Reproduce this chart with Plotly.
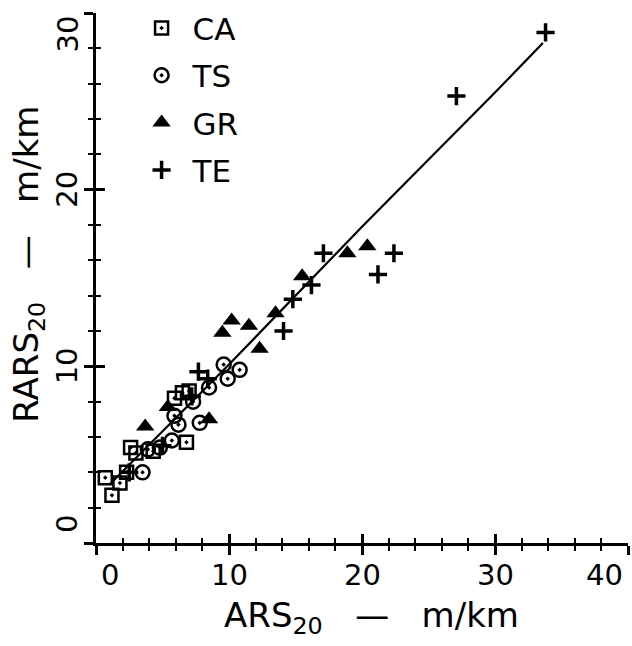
import plotly.graph_objects as go

# data (m/km)
ca_x = [0.7, 1.2, 1.8, 2.3, 2.6, 3.0, 4.3, 6.8, 5.9, 6.5, 7.0]
ca_y = [3.7, 2.7, 3.4, 4.0, 5.4, 5.1, 5.2, 5.7, 8.2, 8.5, 8.6]

ts_x = [3.5, 3.9, 4.8, 5.7, 6.2, 5.9, 7.8, 9.6, 10.8, 9.9, 8.5, 7.3]
ts_y = [4.0, 5.3, 5.4, 5.8, 6.7, 7.2, 6.8, 10.1, 9.8, 9.3, 8.8, 8.0]

gr_x = [20.4, 18.9, 15.5, 13.5, 10.2, 11.5, 9.5, 12.3, 8.5, 3.7, 5.4]
gr_y = [16.8, 16.4, 15.1, 13.0, 12.6, 12.3, 11.9, 11.0, 7.0, 6.6, 7.7]

te_x = [33.8, 27.1, 17.1, 22.4, 21.2, 16.2, 14.8, 14.1, 7.7, 8.4, 2.5, 5.0, 7.2]
te_y = [28.9, 25.3, 16.4, 16.4, 15.2, 14.6, 13.8, 12.0, 9.7, 9.3, 4.0, 5.5, 8.3]

fit_x = [1.0, 10.0, 20.0, 30.0, 33.6]
fit_y = [3.3, 10.1, 17.9, 25.5, 28.3]

x_ticks = [0, 10, 20, 30, 40]
y_ticks = [0, 10, 20, 30]

x_title = "ARS<sub>20</sub>&nbsp;&nbsp;&nbsp;—&nbsp;&nbsp;&nbsp;m/km"
y_title = "RARS<sub>20</sub>&nbsp;&nbsp;&nbsp;—&nbsp;&nbsp;&nbsp;m/km"

font = "DejaVu Sans"

fig = go.Figure()

fig.add_trace(go.Scatter(x=fit_x, y=fit_y, mode="lines",
                         line=dict(color="black", width=2.2), showlegend=False))

fig.add_trace(go.Scatter(x=ca_x, y=ca_y, mode="markers", name="CA", legendgroup="ca",
                         marker=dict(symbol="square-open-dot", size=13, color="black",
                                     line=dict(width=2.5, color="black"))))
fig.add_trace(go.Scatter(x=ts_x, y=ts_y, mode="markers", name="TS", legendgroup="ts",
                         marker=dict(symbol="circle-open-dot", size=14, color="black",
                                     line=dict(width=2.5, color="black"))))
fig.add_trace(go.Scatter(x=gr_x, y=gr_y, mode="markers", name="GR", legendgroup="gr",
                         marker=dict(symbol="triangle-up", size=16, color="black")))
fig.add_trace(go.Scatter(x=te_x, y=te_y, mode="markers", name="TE", legendgroup="te",
                         marker=dict(symbol="cross-thin-open", size=13, color="black",
                                     line=dict(width=3.5, color="black"))))

# dummy trace so the overlaid axes (inside ticks) get drawn
fig.add_trace(go.Scatter(x=[None], y=[None], xaxis="x2", yaxis="y2", showlegend=False))

axis_common = dict(showgrid=False, zeroline=False, showline=True, linewidth=3,
                   linecolor="black", tickcolor="black", tickwidth=2.5,
                   showticklabels=False)
minor_out = dict(dtick=2, ticks="outside", ticklen=5, tickwidth=2, tickcolor="black")
minor_in = dict(dtick=2, ticks="inside", ticklen=5, tickwidth=2, tickcolor="black")

# tick labels as annotations: end labels are pulled inside the axis extent like the original
anns = []
for i, v in enumerate(x_ticks):
    if i == 0:
        anc, dx = "left", 3
    elif i == len(x_ticks) - 1:
        anc, dx = "right", -3
    else:
        anc, dx = "center", 0
    anns.append(dict(x=v, y=0, xref="x", yref="paper", text=str(v), showarrow=False,
                     xanchor=anc, yanchor="top", xshift=dx, yshift=-13,
                     font=dict(size=29)))
for i, v in enumerate(y_ticks):
    if i == 0:
        anc, dy = "bottom", 8
    elif i == len(y_ticks) - 1:
        anc, dy = "top", -1
    else:
        anc, dy = "middle", 0
    anns.append(dict(x=0, y=v, xref="paper", yref="y", text=str(v), showarrow=False,
                     textangle=-90, xanchor="right", yanchor=anc, xshift=-10, yshift=dy,
                     font=dict(size=29)))
anns.append(dict(x=0.517, y=0, xref="paper", yref="paper", text=x_title, showarrow=False,
                 xanchor="center", yanchor="middle", yshift=-74, font=dict(size=34)))
anns.append(dict(x=0, y=0.525, xref="paper", yref="paper", text=y_title, showarrow=False,
                 textangle=-90, xanchor="center", yanchor="middle", xshift=-67,
                 font=dict(size=34)))

fig.update_layout(
    width=632, height=646,
    margin=dict(l=96, r=4, t=13, b=103, autoexpand=False),
    plot_bgcolor="white", paper_bgcolor="white",
    font=dict(family=font, size=29, color="black"),
    xaxis=dict(range=[0, 40], tickvals=x_ticks, ticks="outside", ticklen=9,
               minor=minor_out, **axis_common),
    yaxis=dict(range=[0, 30], tickvals=y_ticks, ticks="outside", ticklen=9,
               minor=minor_out, **axis_common),
    xaxis2=dict(overlaying="x", matches="x", range=[0, 40], tickvals=x_ticks,
                ticks="inside", ticklen=9, minor=minor_in, **axis_common),
    yaxis2=dict(overlaying="y", matches="y", range=[0, 30], tickvals=y_ticks,
                ticks="inside", ticklen=9, minor=minor_in, **axis_common),
    legend=dict(x=0.065, y=1.022, xanchor="left", yanchor="top", tracegroupgap=4,
                itemwidth=52, bgcolor="rgba(0,0,0,0)", font=dict(size=31),
                itemsizing="trace"),
    annotations=anns,
)

fig.write_html("out.html", config={"displayModeBar": False},
               post_script="document.body.style.margin='0';")
